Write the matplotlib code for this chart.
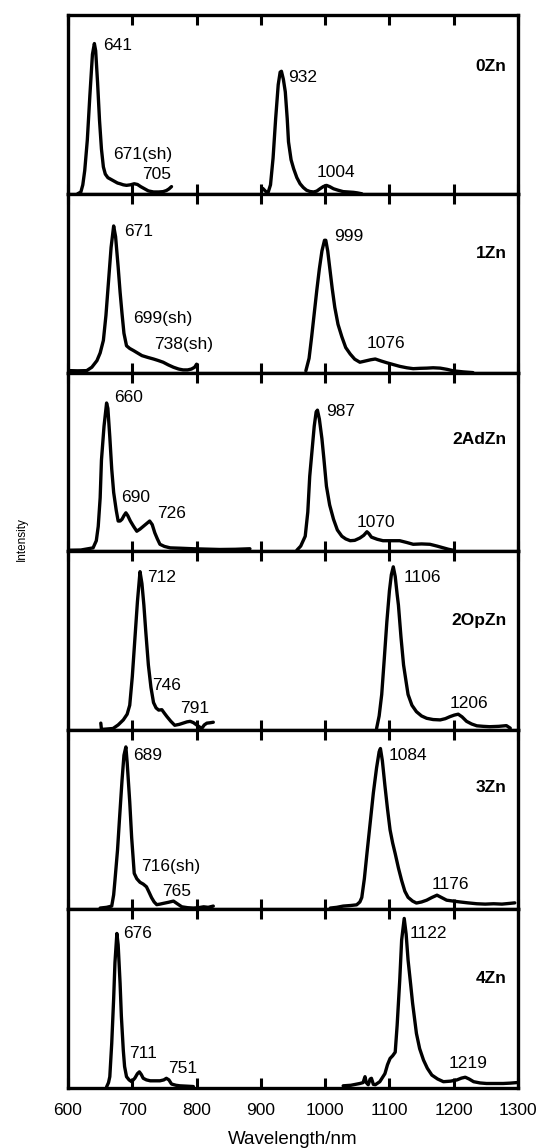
import matplotlib
matplotlib.use("Agg")
import matplotlib.pyplot as plt

plt.rcParams["font.family"] = ["Liberation Sans", "DejaVu Sans"]

samples = ["0Zn", "1Zn", "2AdZn", "2OpZn", "3Zn", "4Zn"]
name_y = [0.71, 0.667, 0.626, 0.616, 0.68, 0.613]

# emission traces as (wavelength nm, normalised intensity);
# every sample has a Q-band segment and a near-IR segment
zn0_vis = [(615, 0.0), (620, 0.01), (623, 0.05), (626, 0.13), (630, 0.3), (634, 0.55), (638, 0.78),
           (641, 0.84), (643, 0.8), (646, 0.62), (649, 0.41), (652, 0.25), (655, 0.15), (658, 0.11),
           (662, 0.09), (667, 0.08), (672, 0.07), (677, 0.06), (681, 0.056), (686, 0.05), (691, 0.047),
           (697, 0.05), (703, 0.056), (708, 0.052), (713, 0.04), (718, 0.03), (725, 0.016), (733, 0.01),
           (741, 0.01), (748, 0.012), (753, 0.018), (757, 0.027), (761, 0.04)]
zn0_nir = [(903, 0.03), (907, 0.015), (911, 0.004), (915, 0.05), (919, 0.2), (923, 0.42), (927, 0.61),
           (930, 0.68), (932, 0.685), (935, 0.64), (938, 0.57), (941, 0.42), (943, 0.29), (947, 0.19),
           (951, 0.14), (956, 0.09), (961, 0.056), (966, 0.035), (971, 0.02), (976, 0.013), (982, 0.01),
           (987, 0.015), (992, 0.028), (997, 0.04), (1002, 0.047), (1007, 0.04), (1013, 0.028),
           (1020, 0.02), (1028, 0.012), (1036, 0.01), (1044, 0.008), (1050, 0.005), (1057, 0.0)]

zn1_vis = [(603, 0.011), (615, 0.01), (629, 0.011), (637, 0.03), (645, 0.067), (650, 0.11), (655, 0.18),
           (659, 0.32), (663, 0.51), (667, 0.7), (671, 0.82), (674, 0.76), (678, 0.59), (681, 0.45),
           (684, 0.33), (687, 0.22), (691, 0.15), (696, 0.135), (702, 0.123), (708, 0.11), (715, 0.095),
           (724, 0.085), (733, 0.076), (740, 0.068), (748, 0.058), (756, 0.043), (764, 0.03), (772, 0.02),
           (779, 0.015), (786, 0.015), (792, 0.02), (797, 0.03), (800, 0.047)]
zn1_nir = [(970, 0.01), (975, 0.08), (979, 0.2), (983, 0.33), (987, 0.46), (991, 0.58), (995, 0.68),
           (999, 0.74), (1001, 0.74), (1004, 0.68), (1007, 0.59), (1011, 0.47), (1015, 0.365),
           (1020, 0.27), (1026, 0.2), (1032, 0.14), (1039, 0.104), (1046, 0.075), (1054, 0.058),
           (1059, 0.062), (1065, 0.067), (1071, 0.072), (1078, 0.076), (1087, 0.065), (1096, 0.055),
           (1106, 0.045), (1116, 0.035), (1127, 0.027), (1137, 0.022), (1148, 0.024), (1158, 0.025),
           (1168, 0.027), (1179, 0.025), (1190, 0.018), (1199, 0.01), (1215, 0.004), (1230, 0.0)]

zn2ad_vis = [(603, 0.007), (620, 0.008), (639, 0.02), (644, 0.06), (647, 0.14), (650, 0.3), (652, 0.51),
             (656, 0.7), (660, 0.83), (662, 0.8), (665, 0.64), (668, 0.46), (671, 0.33), (675, 0.23),
             (678, 0.17), (681, 0.17), (684, 0.18), (687, 0.2), (690, 0.216), (693, 0.2), (697, 0.17),
             (702, 0.14), (707, 0.113), (712, 0.125), (717, 0.14), (722, 0.155), (727, 0.17), (731, 0.15),
             (735, 0.104), (739, 0.07), (743, 0.04), (750, 0.028), (759, 0.02), (775, 0.018), (795, 0.015),
             (815, 0.013), (836, 0.011), (860, 0.012), (883, 0.015)]
zn2ad_nir = [(956, 0.007), (962, 0.03), (969, 0.085), (973, 0.22), (976, 0.42), (980, 0.58), (983, 0.7),
             (986, 0.78), (988, 0.79), (991, 0.74), (995, 0.63), (998, 0.52), (1002, 0.365), (1007, 0.26),
             (1013, 0.18), (1019, 0.12), (1026, 0.085), (1032, 0.07), (1039, 0.06), (1046, 0.062),
             (1054, 0.075), (1060, 0.09), (1065, 0.11), (1068, 0.1), (1072, 0.08), (1081, 0.068),
             (1090, 0.06), (1103, 0.06), (1116, 0.06), (1127, 0.05), (1137, 0.04), (1150, 0.042),
             (1163, 0.04), (1174, 0.03), (1184, 0.02), (1192, 0.012), (1199, 0.007)]

zn2op_vis = [(651, 0.04), (652, 0.005), (660, 0.007), (670, 0.01), (678, 0.03), (686, 0.058), (692, 0.09),
             (696, 0.14), (700, 0.3), (704, 0.51), (708, 0.72), (712, 0.887), (715, 0.82), (718, 0.7),
             (721, 0.55), (725, 0.365), (729, 0.24), (733, 0.155), (737, 0.125), (741, 0.113), (746, 0.115),
             (750, 0.095), (754, 0.076), (760, 0.05), (766, 0.028), (773, 0.033), (779, 0.04), (785, 0.047),
             (790, 0.05), (795, 0.043), (800, 0.03), (808, 0.01), (812, 0.03), (816, 0.04), (821, 0.042),
             (826, 0.045)]
zn2op_nir = [(1080, 0.01), (1084, 0.08), (1088, 0.2), (1092, 0.4), (1096, 0.607), (1100, 0.78),
             (1103, 0.87), (1106, 0.914), (1109, 0.86), (1112, 0.76), (1114, 0.7), (1118, 0.52),
             (1122, 0.365), (1126, 0.27), (1129, 0.2), (1135, 0.14), (1142, 0.104), (1150, 0.08),
             (1158, 0.067), (1168, 0.06), (1179, 0.058), (1187, 0.065), (1194, 0.076), (1201, 0.085),
             (1207, 0.09), (1213, 0.075), (1220, 0.05), (1228, 0.035), (1236, 0.025), (1246, 0.022),
             (1256, 0.02), (1270, 0.022), (1282, 0.026), (1288, 0.012)]

zn3_vis = [(650, 0.006), (660, 0.01), (668, 0.017), (671, 0.08), (673, 0.16), (677, 0.33), (680, 0.5),
           (684, 0.72), (687, 0.86), (690, 0.907), (692, 0.82), (696, 0.6), (699, 0.4), (703, 0.2),
           (707, 0.17), (712, 0.15), (717, 0.14), (722, 0.125), (726, 0.095), (730, 0.064), (734, 0.04),
           (738, 0.025), (743, 0.028), (748, 0.032), (756, 0.038), (764, 0.045), (770, 0.03), (777, 0.013),
           (786, 0.008), (795, 0.006), (803, 0.008), (811, 0.013), (818, 0.01), (826, 0.017)]
zn3_nir = [(1008, 0.006), (1018, 0.01), (1028, 0.017), (1039, 0.02), (1049, 0.024), (1054, 0.04),
           (1057, 0.065), (1061, 0.17), (1065, 0.31), (1070, 0.48), (1075, 0.65), (1080, 0.79),
           (1084, 0.88), (1086, 0.898), (1089, 0.83), (1093, 0.69), (1097, 0.56), (1101, 0.443),
           (1105, 0.37), (1109, 0.31), (1114, 0.23), (1119, 0.16), (1124, 0.1), (1129, 0.066),
           (1136, 0.045), (1142, 0.034), (1150, 0.04), (1158, 0.05), (1166, 0.065), (1174, 0.078),
           (1181, 0.065), (1189, 0.05), (1199, 0.045), (1210, 0.04), (1222, 0.035), (1236, 0.03),
           (1249, 0.028), (1262, 0.03), (1275, 0.028), (1287, 0.032), (1295, 0.035)]

zn4_vis = [(660, 0.006), (663, 0.03), (665, 0.063), (668, 0.25), (671, 0.5), (673, 0.7), (676, 0.864),
           (678, 0.8), (681, 0.585), (683, 0.4), (686, 0.21), (688, 0.12), (691, 0.063), (695, 0.045),
           (699, 0.035), (704, 0.055), (708, 0.08), (711, 0.09), (714, 0.075), (717, 0.054), (722, 0.045),
           (728, 0.04), (735, 0.04), (743, 0.04), (749, 0.045), (753, 0.054), (757, 0.045), (761, 0.022),
           (768, 0.015), (774, 0.012), (785, 0.01), (795, 0.008)]
zn4_nir = [(1028, 0.012), (1040, 0.015), (1054, 0.025), (1059, 0.03), (1062, 0.063), (1064, 0.03),
           (1067, 0.018), (1070, 0.05), (1072, 0.054), (1075, 0.02), (1078, 0.018), (1085, 0.035),
           (1093, 0.08), (1097, 0.13), (1101, 0.165), (1105, 0.18), (1109, 0.2), (1112, 0.35),
           (1116, 0.6), (1119, 0.827), (1123, 0.948), (1126, 0.86), (1129, 0.715), (1133, 0.58),
           (1136, 0.475), (1142, 0.305), (1147, 0.22), (1153, 0.156), (1159, 0.11), (1166, 0.072),
           (1175, 0.05), (1184, 0.035), (1195, 0.038), (1205, 0.045), (1212, 0.055), (1218, 0.06),
           (1224, 0.05), (1231, 0.035), (1241, 0.028), (1251, 0.025), (1264, 0.025), (1277, 0.025),
           (1288, 0.027), (1298, 0.03)]

traces = [(zn0_vis, zn0_nir), (zn1_vis, zn1_nir), (zn2ad_vis, zn2ad_nir),
          (zn2op_vis, zn2op_nir), (zn3_vis, zn3_nir), (zn4_vis, zn4_nir)]

# peak annotations: (x of left edge, y, text)
peaks_0zn = [(654, 0.83, "641"), (670, 0.22, "671(sh)"), (716, 0.11, "705"),
             (943, 0.65, "932"), (987, 0.12, "1004")]
peaks_1zn = [(687, 0.79, "671"), (702, 0.30, "699(sh)"), (734, 0.155, "738(sh)"),
             (1014, 0.76, "999"), (1064, 0.16, "1076")]
peaks_2adzn = [(672, 0.86, "660"), (682, 0.30, "690"), (738, 0.21, "726"),
               (1002, 0.78, "987"), (1049, 0.16, "1070")]
peaks_2opzn = [(723, 0.855, "712"), (731, 0.25, "746"), (775, 0.123, "791"),
               (1122, 0.855, "1106"), (1194, 0.15, "1206")]
peaks_3zn = [(701, 0.86, "689"), (714, 0.24, "716(sh)"), (746, 0.10, "765"),
             (1098, 0.86, "1084"), (1166, 0.14, "1176")]
peaks_4zn = [(685, 0.864, "676"), (695, 0.19, "711"), (755, 0.11, "751"),
             (1132, 0.864, "1122"), (1192, 0.138, "1219")]
peak_labels = [peaks_0zn, peaks_1zn, peaks_2adzn, peaks_2opzn, peaks_3zn, peaks_4zn]

xticks = [600, 700, 800, 900, 1000, 1100, 1200, 1300]

fig, axes = plt.subplots(len(samples), 1, figsize=(5.42, 11.48), dpi=100, sharex=True)
fig.subplots_adjust(left=0.1255, right=0.9557, top=0.987, bottom=0.0523, hspace=0)

for ax, name, ny, segs, labels in zip(axes, samples, name_y, traces, peak_labels):
    for seg in segs:
        wl = [p[0] for p in seg]
        it = [p[1] for p in seg]
        ax.plot(wl, it, color="black", lw=2.4, solid_joinstyle="round", solid_capstyle="round")
    for x, y, t in labels:
        ax.text(x, y, t, ha="left", va="center", fontsize=12.5)
    ax.text(1282, ny, name, ha="right", va="center", fontsize=12.5, fontweight="bold")

    ax.set_xlim(600, 1300)
    ax.set_ylim(0, 1)
    ax.set_yticks([])
    ax.set_xticks(xticks)
    ax.tick_params(axis="x", direction="in", top=True, bottom=True, length=7, width=2.2,
                   labelsize=12.5, pad=11)
    for sp in ax.spines.values():
        sp.set_linewidth(2.4)

axes[-1].set_xlabel("Wavelength/nm", fontsize=13.5, labelpad=9)
fig.text(0.04, 0.53, "Intensity", rotation=90, ha="center", va="center", fontsize=8.5)

fig.savefig("out.png", dpi=100)
